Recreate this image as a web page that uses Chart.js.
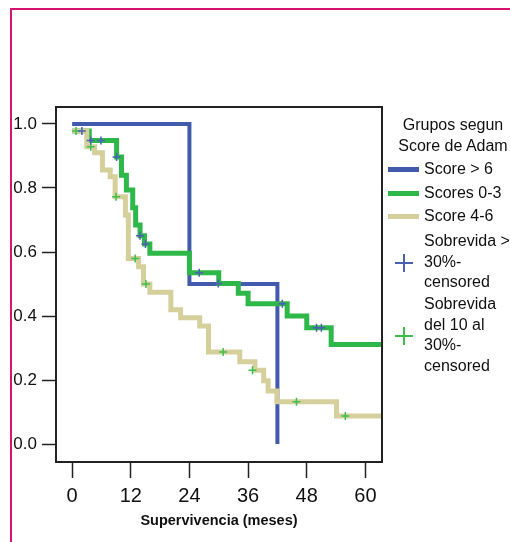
<!DOCTYPE html>
<html><head><meta charset="utf-8">
<script src="https://cdn.jsdelivr.net/npm/chart.js@4"></script>
<style>
html,body{margin:0;padding:0;background:#fff;}
#wrap{position:relative;width:510px;height:542px;overflow:hidden;font-family:"Liberation Sans",Arial,sans-serif;background:#fff;}
#frame{position:absolute;left:10px;top:8px;width:700px;height:700px;border-left:2px solid #d4146e;border-top:2px solid #d4146e;}
canvas{position:absolute;left:0;top:0;}
.lg{position:absolute;font-size:16px;color:#111;line-height:20.5px;white-space:nowrap;}
.ln{position:absolute;left:388px;width:31px;height:5px;}
.cx{position:absolute;}
</style></head>
<body><div id="wrap"><div id="frame"></div><canvas id="c" width="510" height="542"></canvas>
<div class="lg" style="left:393px;top:115px;width:120px;text-align:center;">Grupos segun<br>Score de Adam</div>
<div class="ln" style="top:167px;background:#425aac"></div>
<div class="lg" style="left:424px;top:159px;">Score &gt; 6</div>
<div class="ln" style="top:191px;background:#2eb84a"></div>
<div class="lg" style="left:424px;top:183px;">Scores 0-3</div>
<div class="ln" style="top:214px;background:#d5cf9c"></div>
<div class="lg" style="left:424px;top:206px;">Score 4-6</div>
<div class="cx" style="left:395px;top:262px;width:18px;height:1.5px;background:#4a5fb5"></div>
<div class="cx" style="left:403px;top:254px;width:1.5px;height:18px;background:#4a5fb5"></div>
<div class="lg" style="left:424px;top:231px;">Sobrevida &gt;<br>30%-<br>censored</div>
<div class="cx" style="left:395px;top:335px;width:18px;height:1.5px;background:#3cc04e"></div>
<div class="cx" style="left:403px;top:327px;width:1.5px;height:18px;background:#3cc04e"></div>
<div class="lg" style="left:424px;top:294px;">Sobrevida<br>del 10 al<br>30%-<br>censored</div>
</div>
<script>
// Months and survival proportions
const blueT = [0, 24, 42];
const blueS = [1.0, 0.5, 0.0];

const greenT = [0, 3.5, 9.1, 10.1, 11.1, 12.4, 13.0, 13.9, 14.8, 15.9, 24.0, 30.0, 34.0, 36.0, 44.0, 48.0, 53.0, 63.4];
const greenS = [0.978, 0.948, 0.897, 0.84, 0.794, 0.738, 0.684, 0.651, 0.625, 0.596, 0.535, 0.502, 0.471, 0.438, 0.40, 0.363, 0.311, 0.311];

const tanT = [0, 3.0, 4.6, 6.2, 7.8, 8.8, 10.9, 11.5, 13.6, 14.6, 15.9, 20.2, 22.2, 26.1, 27.9, 34.3, 37.4, 39.2, 40.1, 41.9, 54.1, 63.4];
const tanS = [0.978, 0.929, 0.91, 0.856, 0.835, 0.773, 0.716, 0.58, 0.554, 0.5, 0.474, 0.42, 0.395, 0.369, 0.288, 0.257, 0.231, 0.198, 0.166, 0.132, 0.088, 0.088];

// censored marks (blue + on Scores 0-3, green + on Score 4-6)
const greenCensT = [2.0, 3.8, 5.9, 9.1, 13.9, 15.0, 26.0, 29.9, 43.0, 50.0, 51.0];
const greenCensS = [0.978, 0.948, 0.948, 0.897, 0.651, 0.625, 0.535, 0.502, 0.438, 0.363, 0.363];
const tanCensT = [0.8, 3.8, 9.0, 12.9, 15.1, 30.9, 36.9, 45.9, 55.9];
const tanCensS = [0.978, 0.929, 0.773, 0.58, 0.5, 0.288, 0.231, 0.132, 0.088];

const xTicks = [0, 12, 24, 36, 48, 60];
const yTicks = [0.0, 0.2, 0.4, 0.6, 0.8, 1.0];
const xTitle = 'Supervivencia (meses)';

const F = '"Liberation Sans", Arial, sans-serif';
const pts = (t, s) => t.map((v, i) => ({x: v, y: s[i]}));

const boxPlugin = {
  id: 'box',
  afterDraw(chart) {
    const a = chart.chartArea, c = chart.ctx;
    c.save();
    c.strokeStyle = '#222';
    c.lineWidth = 2;
    c.strokeRect(a.left, a.top, a.right - a.left, a.bottom - a.top);
    c.restore();
  }
};

const lineDs = (label, t, s, color, w, order) => ({
  type: 'line', label, data: pts(t, s), borderColor: color, backgroundColor: color,
  borderWidth: w, stepped: 'before', pointRadius: 0, fill: false, order,
  borderJoinStyle: 'miter', borderCapStyle: 'butt', tension: 0
});
const censDs = (label, t, s, color) => ({
  type: 'scatter', label, data: pts(t, s), showLine: false, pointStyle: 'cross',
  pointRadius: 4, borderWidth: 1.5, borderColor: color, backgroundColor: color, order: 0
});

new Chart(document.getElementById('c'), {
  type: 'line',
  data: {
    datasets: [
      censDs('Sobrevida > 30%-censored', greenCensT, greenCensS, '#4a5fb5'),
      censDs('Sobrevida del 10 al 30%-censored', tanCensT, tanCensS, '#3cc04e'),
      lineDs('Score 4-6', tanT, tanS, '#d5cf9c', 5, 1),
      lineDs('Scores 0-3', greenT, greenS, '#2eb84a', 5, 2),
      lineDs('Score > 6', blueT, blueS, '#425aac', 4, 3)
    ]
  },
  plugins: [boxPlugin],
  options: {
    responsive: false, animation: false, devicePixelRatio: 1,
    layout: {padding: {left: 0, top: 107, right: 128, bottom: 0}},
    plugins: {legend: {display: false}, tooltip: {enabled: false}},
    scales: {
      x: {
        type: 'linear', min: -3.3, max: 63.4,
        afterBuildTicks: a => { a.ticks = xTicks.map(v => ({value: v})); },
        afterFit: s => { s.height = 80; },
        ticks: {font: {family: F, size: 20}, color: '#111', padding: 6, maxRotation: 0, autoSkip: false, callback: v => String(v)},
        grid: {drawOnChartArea: false, drawTicks: true, tickLength: 16, tickWidth: 1.5, tickColor: '#222'},
        border: {display: true, color: '#222', width: 2},
        title: {display: true, text: xTitle, font: {family: F, size: 14.5, weight: 'bold'}, color: '#111', padding: {top: 0, bottom: 12}}
      },
      y: {
        type: 'linear', min: -0.056, max: 1.053,
        afterBuildTicks: a => { a.ticks = yTicks.map(v => ({value: v})); },
        afterFit: s => { s.width = 56; },
        ticks: {font: {family: F, size: 17}, color: '#111', padding: 5, autoSkip: false, callback: v => Number(v).toFixed(1)},
        grid: {drawOnChartArea: false, drawTicks: true, tickLength: 14, tickWidth: 1.5, tickColor: '#222'},
        border: {display: true, color: '#222', width: 2}
      }
    }
  }
});
</script>
</body></html>
